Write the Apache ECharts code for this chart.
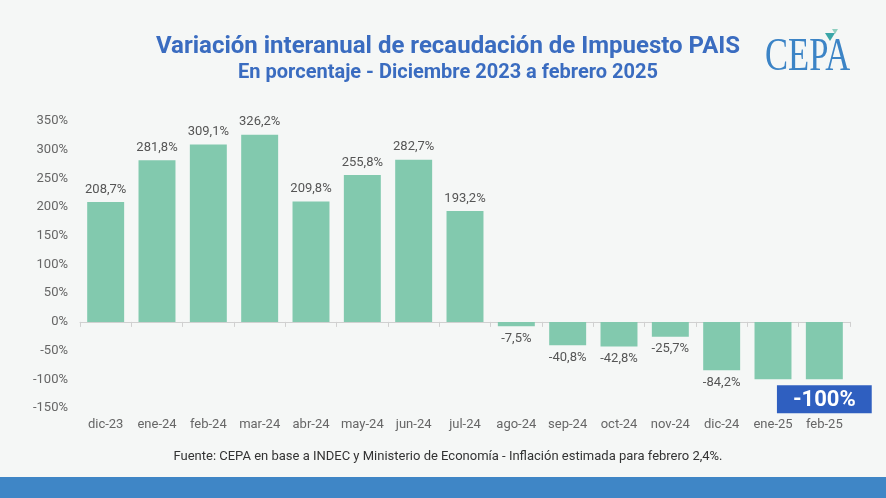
<!DOCTYPE html>
<html>
<head>
<meta charset="utf-8">
<script src="https://cdn.jsdelivr.net/npm/echarts@6/dist/echarts.min.js"></script>
<style>
  html, body { margin: 0; padding: 0; background: #f5f7f6; }
  #main { width: 886px; height: 498px; }
</style>
</head>
<body>
<div id="main"></div>
<script>
// meses
var categories = ['dic-23', 'ene-24', 'feb-24', 'mar-24', 'abr-24', 'may-24', 'jun-24', 'jul-24',
                  'ago-24', 'sep-24', 'oct-24', 'nov-24', 'dic-24', 'ene-25', 'feb-25'];
// variacion interanual (%)
var values = [208.7, 281.8, 309.1, 326.2, 209.8, 255.8, 282.7, 193.2,
              -7.5, -40.8, -42.8, -25.7, -84.2, -100, -100];
// etiquetas tal como aparecen
var labels = ['208,7%', '281,8%', '309,1%', '326,2%', '209,8%', '255,8%', '282,7%', '193,2%',
              '-7,5%', '-40,8%', '-42,8%', '-25,7%', '-84,2%', '', '-100%'];

var myChart = echarts.init(document.getElementById('main'));

var data = values.map(function (v, i) {
    var item = { value: v, label: { formatter: labels[i] } };
    if (i === values.length - 1) {
        // recuadro destacado
        item.label = {
            formatter: labels[i],
            position: 'bottom',
            distance: 6,
            color: '#ffffff',
            fontSize: 22,
            fontWeight: 'bold',
            backgroundColor: '#2f5fc0',
            padding: [2, 16, 0, 16],
            lineHeight: 26
        };
    }
    return item;
});

option = {
    backgroundColor: '#f5f7f6',
    textStyle: { fontFamily: 'Roboto' },
    title: [
        {
            text: 'Variación interanual de recaudación de Impuesto PAIS',
            subtext: 'En porcentaje - Diciembre 2023 a febrero 2025',
            left: 443, top: 30, textAlign: 'center', itemGap: 4,
            textStyle: { color: '#3a6cc0', fontSize: 24, fontWeight: 'bold', fontFamily: 'Roboto' },
            subtextStyle: { color: '#3a6cc0', fontSize: 20, fontWeight: 'bold', fontFamily: 'Roboto' }
        },
        {
            text: 'Fuente: CEPA en base a INDEC y Ministerio de Economía - Inflación estimada para febrero 2,4%.',
            left: 443, top: 445, textAlign: 'center',
            textStyle: { color: '#333333', fontSize: 13, fontWeight: 'normal', fontFamily: 'Roboto' }
        }
    ],
    grid: { left: 80, right: 36, top: 121, bottom: 90 },
    xAxis: [
        {
            type: 'category',
            data: categories,
            axisLine: { onZero: true, lineStyle: { color: '#d0d0d0' } },
            axisTick: { show: true, lineStyle: { color: '#d0d0d0' } },
            axisLabel: { show: false }
        },
        {
            // etiquetas de meses abajo
            type: 'category',
            data: categories,
            position: 'bottom',
            offset: 0,
            axisLine: { show: false, onZero: false },
            axisTick: { show: false },
            axisLabel: { color: '#666666', fontSize: 13, margin: 10, interval: 0 }
        }
    ],
    yAxis: [
        {
            type: 'value',
            min: -150,
            max: 350,
            interval: 50,
            axisLine: { show: false },
            axisTick: { show: false },
            splitLine: { show: false },
            axisLabel: { color: '#666666', fontSize: 13, margin: 12, formatter: '{value}%' }
        }
    ],
    series: [
        {
            type: 'bar',
            data: data,
            barWidth: '72%',
            itemStyle: { color: '#82c9ae' },
            label: { show: true, position: 'outside', color: '#555555', fontSize: 13, distance: 6 },
            labelLayout: { hideOverlap: false }
        }
    ],
    graphic: [
        {
            type: 'rect',
            shape: { x: 0, y: 477, width: 886, height: 21 },
            style: { fill: '#3f86c6' }
        },
        {
            type: 'text',
            x: 765, y: 81,
            scaleX: 0.96, scaleY: 1.3,
            style: { text: 'CEPA', fill: '#3c84c6', font: '36px "Liberation Serif"', textVerticalAlign: 'bottom' }
        },
        {
            type: 'polygon',
            shape: { points: [[825, 33], [835, 33], [830, 41]] },
            style: { fill: '#3aa6a8' }
        },
        {
            type: 'polygon',
            shape: { points: [[832, 29], [838, 29], [835, 34]] },
            style: { fill: '#8fcfc0' }
        }
    ]
};

myChart.setOption(option);
</script>
</body>
</html>
